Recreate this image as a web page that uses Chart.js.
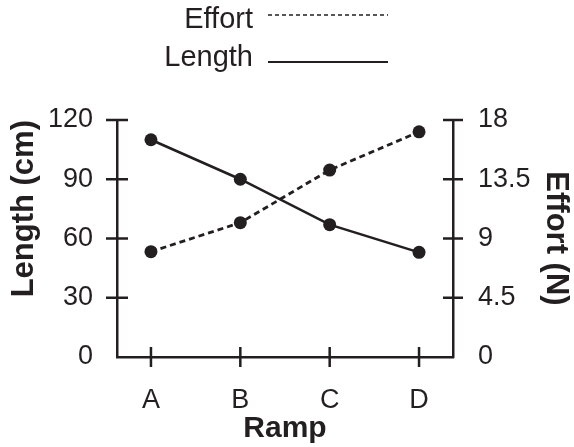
<!DOCTYPE html>
<html>
<head>
<meta charset="utf-8">
<script src="https://cdn.jsdelivr.net/npm/chart.js@4"></script>
<style>
html, body { margin: 0; padding: 0; background: #fff; }
#wrap { width: 574px; height: 447px; }
</style>
</head>
<body>
<div id="wrap"><canvas id="rampChart"></canvas></div>
<script>
var ramps = ['A', 'B', 'C', 'D'];
var lengthCm = [110, 90, 67, 53];
var effortN = [8, 10.2, 14.2, 17.1];
var lengthTicks = [0, 30, 60, 90, 120];
var effortTicks = [0, 4.5, 9, 13.5, 18];

var ink = '#231f20';
var family = "'Liberation Sans', Arial, Helvetica, sans-serif";

function toPoints(values) {
    return values.map(function (v, i) { return {x: i, y: v}; });
}

function fixedTicks(list) {
    return function (scale) {
        scale.ticks = list.map(function (v) { return {value: v}; });
    };
}

function fixWidth(w) {
    return function (scale) { scale.width = w; };
}

// tick marks crossing the axis lines
var crossTicks = {
    id: 'crossTicks',
    afterDraw: function (chart) {
        var ctx = chart.ctx, area = chart.chartArea, s = chart.scales;
        ctx.save();
        ctx.strokeStyle = ink;
        ctx.lineWidth = 2.5;
        ctx.beginPath();
        s.x.ticks.forEach(function (t) {
            var px = s.x.getPixelForValue(t.value);
            ctx.moveTo(px, area.bottom - 10);
            ctx.lineTo(px, area.bottom + 10);
        });
        s.y.ticks.forEach(function (t) {
            var py = s.y.getPixelForValue(t.value);
            if (t.value === 0) return;
            ctx.moveTo(area.left - 11, py);
            ctx.lineTo(area.left + 11, py);
        });
        s.y1.ticks.forEach(function (t) {
            var py = s.y1.getPixelForValue(t.value);
            if (t.value === 0) return;
            ctx.moveTo(area.right - 10, py);
            ctx.lineTo(area.right + 10, py);
        });
        ctx.stroke();
        ctx.restore();
    }
};

// stacked legend: text on the left, line sample on the right
var stackLegend = {
    id: 'stackLegend',
    afterDraw: function (chart) {
        var ctx = chart.ctx;
        var rows = [
            {ds: chart.data.datasets[1], textY: 28, lineY: 15, dash: [4, 3], width: 1.6},
            {ds: chart.data.datasets[0], textY: 66, lineY: 62, dash: [], width: 2.2}
        ];
        ctx.save();
        ctx.font = '29px ' + family;
        ctx.fillStyle = ink;
        ctx.strokeStyle = ink;
        ctx.textAlign = 'right';
        ctx.textBaseline = 'alphabetic';
        rows.forEach(function (r) {
            ctx.fillText(r.ds.label, 253, r.textY);
            ctx.beginPath();
            ctx.setLineDash(r.dash);
            ctx.lineWidth = r.width;
            ctx.moveTo(268, r.lineY);
            ctx.lineTo(388, r.lineY);
            ctx.stroke();
        });
        ctx.restore();
    }
};

var ctx = document.getElementById('rampChart').getContext('2d');
new Chart(ctx, {
    type: 'line',
    data: {
        datasets: [{
            label: 'Length',
            data: toPoints(lengthCm),
            yAxisID: 'y',
            borderColor: ink,
            backgroundColor: ink,
            borderWidth: 2.5,
            pointRadius: 6.5,
            pointBorderWidth: 0,
            tension: 0
        }, {
            label: 'Effort',
            data: toPoints(effortN),
            yAxisID: 'y1',
            borderColor: ink,
            backgroundColor: ink,
            borderWidth: 2.8,
            borderDash: [6, 4],
            pointRadius: 6.5,
            pointBorderWidth: 0,
            tension: 0
        }]
    },
    options: {
        responsive: true,
        maintainAspectRatio: false,
        animation: false,
        layout: { padding: { top: 120, left: 0, right: 0, bottom: 0 } },
        plugins: {
            legend: { display: false },
            tooltip: { enabled: false }
        },
        scales: {
            x: {
                type: 'linear',
                min: -0.38,
                max: 3.38,
                afterBuildTicks: fixedTicks([0, 1, 2, 3]),
                afterFit: function (scale) { scale.height = 90; },
                grid: { drawOnChartArea: false, drawTicks: false },
                border: { color: ink, width: 2.5 },
                ticks: {
                    color: ink,
                    padding: 27,
                    font: { family: family, size: 27 },
                    callback: function (v) { return ramps[v]; }
                },
                title: {
                    display: true,
                    text: 'Ramp',
                    color: ink,
                    padding: 0,
                    font: { family: family, size: 30, weight: 'bold' }
                }
            },
            y: {
                position: 'left',
                min: 0,
                max: 120,
                afterBuildTicks: fixedTicks(lengthTicks),
                afterFit: fixWidth(117),
                grid: { drawOnChartArea: false, drawTicks: false },
                border: { color: ink, width: 2.5 },
                ticks: {
                    color: ink,
                    padding: 24,
                    font: { family: family, size: 27 },
                    callback: function (v) { return String(v); }
                },
                title: {
                    display: true,
                    text: 'Length (cm)',
                    color: ink,
                    align: 'end',
                    padding: { top: 6, bottom: 0 },
                    font: { family: family, size: 31, weight: 'bold' }
                }
            },
            y1: {
                position: 'right',
                min: 0,
                max: 18,
                afterBuildTicks: fixedTicks(effortTicks),
                afterFit: fixWidth(121),
                grid: { drawOnChartArea: false, drawTicks: false },
                border: { color: ink, width: 2.5 },
                ticks: {
                    color: ink,
                    padding: 25,
                    font: { family: family, size: 27 },
                    callback: function (v) { return String(v); }
                },
                title: {
                    display: true,
                    text: 'Effort (N)',
                    color: ink,
                    padding: 0,
                    font: { family: family, size: 31, weight: 'bold' }
                }
            }
        }
    },
    plugins: [crossTicks, stackLegend]
});
</script>
</body>
</html>
